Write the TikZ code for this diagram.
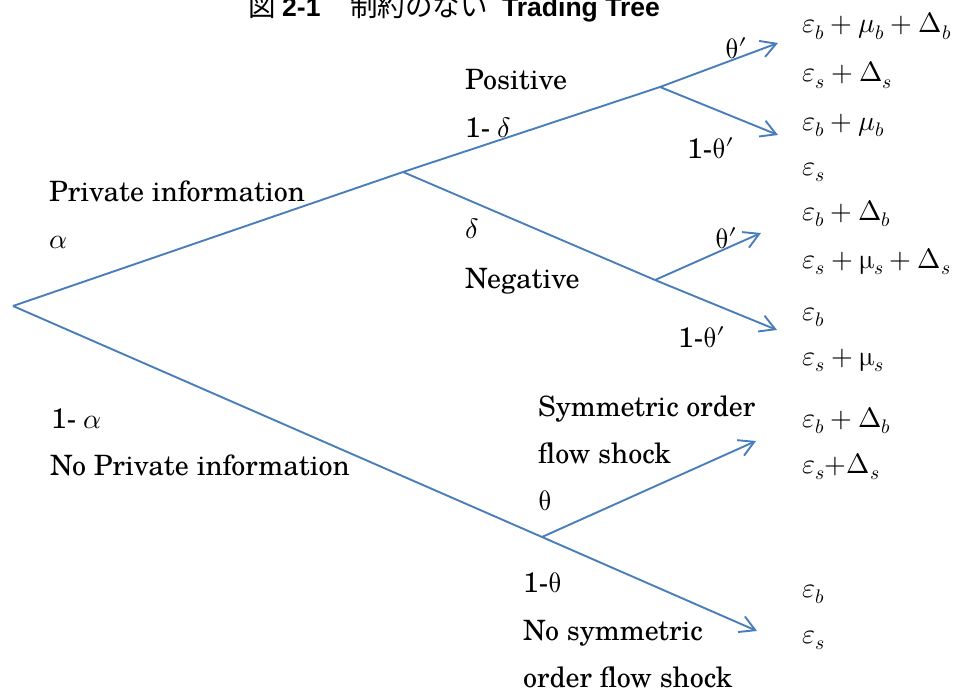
\documentclass[tikz,border=0pt]{standalone}
\usepackage{fontspec}
\usepackage{unicode-math}
\setmainfont{TeX Gyre Schola}
\usetikzlibrary{arrows.meta}
\newfontfamily\jpfont{Noto Sans CJK JP}
\newfontfamily\ttlfont{Liberation Sans}
\definecolor{branch}{HTML}{4A7EBB}
\tikzset{
  lbl/.style={anchor=base west, inner sep=0pt, font=\fontsize{28}{34}\selectfont},
  outc/.style={anchor=base west, inner sep=0pt, font=\fontsize{28}{34}\selectfont},
  br/.style={draw=branch, line width=1.9pt},
  arr/.style={br, -{Straight Barb[length=15pt,width=17pt]}},
  ttl/.style={anchor=base west, inner sep=0pt, font=\fontsize{26.5}{30}\selectfont\ttlfont\bfseries},
  ttljp/.style={anchor=base west, inner sep=0pt, font=\fontsize{27.5}{30}\selectfont\jpfont}
}
\begin{document}
\begin{tikzpicture}[x=1pt,y=-1pt]
\useasboundingbox (0,0) rectangle (954,693);
% title
\node[ttljp] (fig) at (248,17) {図};
\node[ttl] (num) at (282,17) {2-1};
\node[ttljp] (jtitle) at (350,17) {制約のない};
\node[ttl] (etitle) at (502,17) {Trading Tree};
% branching points
\coordinate (root) at (13,306);
\coordinate (A) at (403,172);
\coordinate (P) at (660,87);
\coordinate (N) at (655,280);
\coordinate (S) at (542,537);
\coordinate (t1) at (778,43);
\coordinate (t2) at (778,135);
\coordinate (t3) at (761,233);
\coordinate (t4) at (777,330);
\coordinate (t5) at (756,441);
\coordinate (t6) at (757,631);
% branches
\draw[arr] (root) -- (A) -- (P) -- (t1);
\draw[arr] (P) -- (t2);
\draw[arr] (A) -- (N) -- (t4);
\draw[arr] (N) -- (t3);
\draw[arr] (root) -- (S) -- (t6);
\draw[arr] (S) -- (t5);
% left labels
\node[lbl] (pinfo) at (49,201) {Private information};
\node[lbl] (alpha) at (49,248) {$\alpha$};
\node[lbl] (nalpha) at (51,428) {1- $\alpha$};
\node[lbl] (npinfo) at (50,475) {No Private information};
% middle labels
\node[lbl] (pos) at (465,89) {Positive};
\node[lbl] (ndelta) at (465,137) {1- $\delta$};
\node[lbl] (delta) at (465,238) {$\delta$};
\node[lbl] (neg) at (465,288) {Negative};
\node[lbl] (th1) at (725,59) {$\uptheta\prime$};
\node[lbl] (nth1) at (687,158) {1-$\uptheta\prime$};
\node[lbl] (th2) at (715,248) {$\uptheta\prime$};
\node[lbl] (nth2) at (678,347) {1-$\uptheta\prime$};
\node[lbl] (sym1) at (538,416) {Symmetric order};
\node[lbl] (sym2) at (538,463) {flow shock};
\node[lbl] (th) at (538,510) {$\uptheta$};
\node[lbl] (nth) at (523,592) {1-$\uptheta$};
\node[lbl] (nsym1) at (523,640) {No symmetric};
\node[lbl] (nsym2) at (523,687) {order flow shock};
% outcomes
\node[outc] (o1) at (802,33) {$\varepsilon_b+\mu_b+\Delta_b$};
\node[outc] (o2) at (802,82) {$\varepsilon_s+\Delta_s$};
\node[outc] (o3) at (802,130) {$\varepsilon_b+\mu_b$};
\node[outc] (o4) at (802,175) {$\varepsilon_s$};
\node[outc] (o5) at (802,220) {$\varepsilon_b+\Delta_b$};
\node[outc] (o6) at (802,268) {$\varepsilon_s+\upmu_s+\Delta_s$};
\node[outc] (o7) at (802,320) {$\varepsilon_b$};
\node[outc] (o8) at (802,365) {$\varepsilon_s+\upmu_s$};
\node[outc] (o9) at (802,427) {$\varepsilon_b+\Delta_b$};
\node[outc] (o10) at (802,473) {$\varepsilon_s{+}\Delta_s$};
\node[outc] (o11) at (802,597) {$\varepsilon_b$};
\node[outc] (o12) at (802,643) {$\varepsilon_s$};
\end{tikzpicture}
\end{document}
